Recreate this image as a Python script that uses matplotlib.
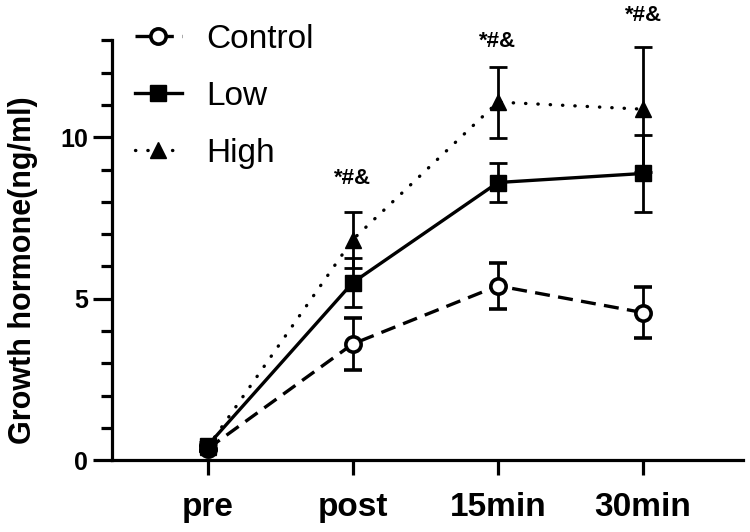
import matplotlib
matplotlib.use("Agg")
import matplotlib.pyplot as plt
from matplotlib.ticker import MultipleLocator
from matplotlib.lines import Line2D

plt.rcParams['font.family'] = ['Liberation Sans', 'DejaVu Sans']

categories = ["pre", "post", "15min", "30min"]
control = [0.35, 3.60, 5.40, 4.57]
control_err = [0.08, 0.80, 0.72, 0.80]
low = [0.45, 5.50, 8.60, 8.88]
low_err = [0.10, 0.75, 0.59, 1.20]
high = [0.40, 6.83, 11.09, 10.87]
high_err = [0.10, 0.87, 1.10, 1.93]
annot_text = "*#&"
annot_x = [1, 2, 3]
annot_y = [8.73, 12.98, 13.76]

x = list(range(len(categories)))

fig = plt.figure(figsize=(7.5, 5.32), dpi=100)
ax = fig.add_axes([0.149, 0.135, 0.842, 0.789])

lw = 2.4
common = dict(color='black', elinewidth=2.0, capsize=6.5, capthick=2.0, lw=lw)

ctrl_style = dict(ls=(0, (4.5, 2.5)), marker='o', ms=11, mfc='white', mec='black', mew=2.6)
low_style = dict(ls='-', marker='s', ms=12, mfc='black', mec='black')
high_style = dict(ls=(0, (0.1, 3.6)), marker='^', ms=12, mfc='black', mec='black',
                  dash_capstyle='round')

ax.errorbar(x, control, yerr=control_err, zorder=3, **ctrl_style, **common)
ax.errorbar(x, low, yerr=low_err, zorder=4, **low_style, **common)
ax.errorbar(x, high, yerr=high_err, zorder=5, **high_style, **common)

for xi, yi in zip(annot_x, annot_y):
    ax.text(xi, yi, annot_text, ha='center', va='center', fontsize=16,
            fontweight='bold', clip_on=False)

ax.set_xlim(-0.66, 3.69)
ax.set_ylim(0, 13)
ax.set_xticks(x)
ax.set_xticklabels(categories, fontsize=24, fontweight='bold')
ax.set_yticks([0, 5, 10])
ax.yaxis.set_minor_locator(MultipleLocator(1))
for lab in ax.get_yticklabels():
    lab.set_fontsize(18)
    lab.set_fontweight('bold')

ax.spines['top'].set_visible(False)
ax.spines['right'].set_visible(False)
for s in ['left', 'bottom']:
    ax.spines[s].set_linewidth(2.3)
ax.tick_params(axis='y', which='major', length=14, width=2.3, pad=3)
ax.tick_params(axis='y', which='minor', length=8, width=2.3)
ax.tick_params(axis='x', which='major', length=11, width=2.3, pad=12)

ax.set_ylabel("Growth hormone(ng/ml)", fontsize=22, fontweight='bold')
ax.yaxis.set_label_coords(-0.117, 0.452)

handles = [
    Line2D([], [], color='black', lw=lw, **ctrl_style),
    Line2D([], [], color='black', lw=lw, **low_style),
    Line2D([], [], color='black', lw=lw, **high_style),
]
leg = ax.legend(handles, ["Control", "Low", "High"], loc='upper left',
                bbox_to_anchor=(0.14, 1.011), bbox_transform=fig.transFigure,
                frameon=False, fontsize=24, handlelength=1.4, handletextpad=0.75,
                labelspacing=0.78)

fig.savefig("out.png", dpi=100)
